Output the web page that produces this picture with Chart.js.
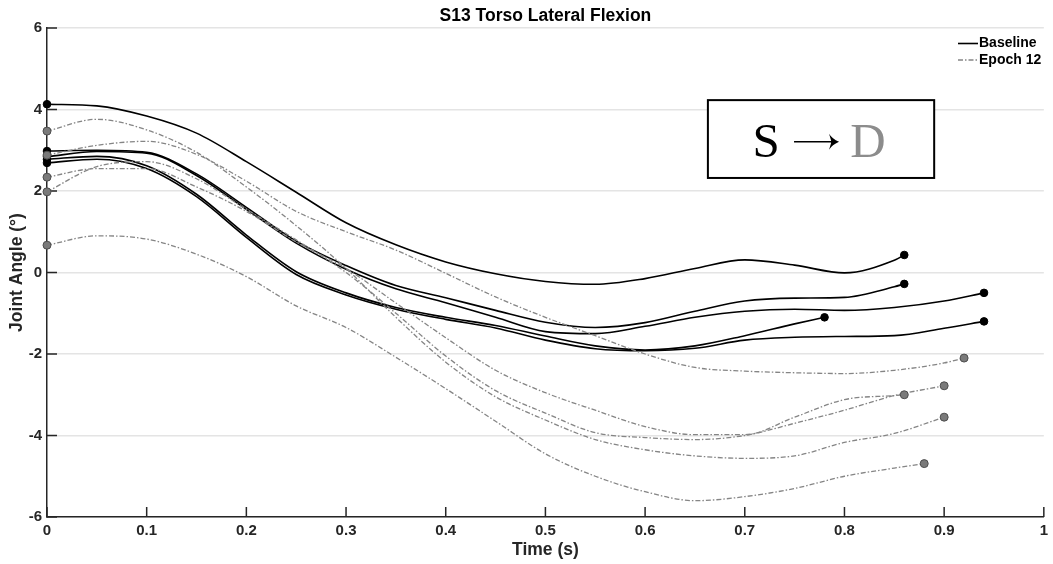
<!DOCTYPE html>
<html>
<head>
<meta charset="utf-8">
<script src="https://cdn.jsdelivr.net/npm/chart.js@4.4.1/dist/chart.umd.min.js"></script>
<style>
  html, body { margin: 0; padding: 0; background: #fff; }
  canvas { display: block; }
</style>
</head>
<body>
<canvas id="angleChart" width="1053" height="564"></canvas>
<script>
// sample times (s) shared by every trial
const time = [0, 0.05, 0.1, 0.15, 0.2, 0.25, 0.3, 0.35, 0.4, 0.45, 0.5, 0.55, 0.6, 0.65, 0.7, 0.75, 0.8, 0.85, 0.9];

// Baseline trials: angle at each `time` step, then the final sample [t, angle]
const base1 = [4.13, 4.09, 3.84, 3.42, 2.72, 1.97, 1.22, 0.68, 0.26, -0.03, -0.22, -0.29, -0.15, 0.1, 0.31, 0.18, -0.01, 0.3];
const base2 = [2.98, 3.0, 2.95, 2.42, 1.6, 0.77, 0.17, -0.32, -0.62, -0.93, -1.22, -1.35, -1.23, -0.95, -0.7, -0.63, -0.61, -0.35];
const base3 = [2.84, 2.97, 2.93, 2.38, 1.55, 0.72, 0.08, -0.4, -0.74, -1.1, -1.45, -1.5, -1.32, -1.1, -0.95, -0.9, -0.93, -0.86, -0.7];
const base4 = [2.78, 2.85, 2.62, 1.92, 0.92, 0.02, -0.5, -0.86, -1.1, -1.3, -1.56, -1.8, -1.9, -1.8, -1.55, -1.26];
const base5 = [2.69, 2.78, 2.55, 1.86, 0.86, -0.05, -0.55, -0.9, -1.15, -1.36, -1.66, -1.87, -1.92, -1.86, -1.66, -1.59, -1.57, -1.55, -1.37];
const baseEnds = [[0.86, 0.43], [0.86, -0.28], [0.94, -0.5], [0.78, -1.1], [0.94, -1.2]];

// Epoch 12 trials
const epoch1 = [2.88, 3.12, 3.22, 2.9, 2.24, 1.5, 1.0, 0.55, -0.02, -0.6, -1.1, -1.55, -2.0, -2.33, -2.42, -2.46, -2.48, -2.4, -2.22];
const epoch2 = [3.47, 3.76, 3.5, 2.95, 2.1, 1.15, 0.1, -1.1, -2.2, -3.05, -3.62, -4.1, -4.35, -4.5, -4.56, -4.5, -4.17, -3.95];
const epoch3 = [2.34, 2.55, 2.55, 2.1, 1.5, 0.75, 0.1, -0.75, -1.6, -2.4, -2.95, -3.38, -3.78, -3.98, -3.98, -3.55, -3.12, -3.02];
const epoch4 = [1.98, 2.6, 2.72, 2.3, 1.55, 0.8, 0.0, -1.0, -2.05, -2.9, -3.45, -3.93, -4.05, -4.1, -4.0, -3.7, -3.38, -3.02];
const epoch5 = [0.67, 0.9, 0.82, 0.45, -0.1, -0.82, -1.35, -2.08, -2.85, -3.65, -4.45, -5.0, -5.38, -5.6, -5.5, -5.3, -5.0, -4.8];
const epochEnds = [[0.92, -2.1], [0.9, -3.55], [0.86, -3.0], [0.9, -2.78], [0.88, -4.69]];

const baseTrials = [base1, base2, base3, base4, base5];
const epochTrials = [epoch1, epoch2, epoch3, epoch4, epoch5];

const axisColor = '#262626';
const epochColor = '#858585';
const epochDash = [5, 2, 1.5, 2];
const sans = '"Liberation Sans", Arial, sans-serif';

function toPoints(vals, end) {
    const pts = vals.map((v, i) => ({ x: time[i], y: v }));
    pts.push({ x: end[0], y: end[1] });
    return pts;
}

// only first and last sample get a marker
const endMarker = (r) => (c) => (c.dataIndex === 0 || c.dataIndex === c.dataset.data.length - 1) ? r : 0;

const datasets = [];
epochTrials.forEach((vals, i) => {
    datasets.push({
        label: 'Epoch 12',
        data: toPoints(vals, epochEnds[i]),
        borderColor: epochColor,
        borderWidth: 1.3,
        borderDash: epochDash,
        pointRadius: endMarker(4),
        pointBackgroundColor: '#7a7a7a',
        pointBorderColor: '#4d4d4d',
        pointBorderWidth: 1,
        cubicInterpolationMode: 'monotone',
        clip: false
    });
});
baseTrials.forEach((vals, i) => {
    datasets.push({
        label: 'Baseline',
        data: toPoints(vals, baseEnds[i]),
        borderColor: '#000',
        borderWidth: 1.6,
        pointRadius: endMarker(3.8),
        pointBackgroundColor: '#000',
        pointBorderColor: '#000',
        pointBorderWidth: 1,
        cubicInterpolationMode: 'monotone',
        clip: false
    });
});

// ticks inside the axes, title, axis titles, legend and the S -> D box
const decor = {
    id: 'decor',
    beforeDatasetsDraw(chart) {
        const { ctx, chartArea: a, scales: { x, y } } = chart;
        ctx.save();
        ctx.strokeStyle = axisColor;
        ctx.lineWidth = 1.5;
        ctx.beginPath();
        x.ticks.forEach(t => {
            const px = x.getPixelForValue(t.value);
            ctx.moveTo(px, a.bottom);
            ctx.lineTo(px, a.bottom - 10);
        });
        y.ticks.forEach(t => {
            const py = y.getPixelForValue(t.value);
            ctx.moveTo(a.left, py);
            ctx.lineTo(a.left + 10, py);
        });
        ctx.stroke();
        ctx.restore();
    },
    afterDraw(chart) {
        const { ctx, chartArea: a, scales: { x, y } } = chart;
        ctx.save();

        ctx.fillStyle = '#000';
        ctx.font = 'bold 17.5px ' + sans;
        ctx.textAlign = 'center';
        ctx.textBaseline = 'middle';
        ctx.fillText('S13 Torso Lateral Flexion', (a.left + a.right) / 2, 16);

        ctx.fillStyle = axisColor;
        ctx.fillText('Time (s)', (a.left + a.right) / 2, 550);
        ctx.save();
        ctx.translate(17.5, (a.top + a.bottom) / 2);
        ctx.rotate(-Math.PI / 2);
        ctx.fillText('Joint Angle (°)', 0, 0);
        ctx.restore();

        // legend
        ctx.font = 'bold 14px ' + sans;
        ctx.textAlign = 'left';
        ctx.fillStyle = '#000';
        const lx = 958, items = [['Baseline', '#000', [], 1.6, 43.5], ['Epoch 12', epochColor, epochDash, 1.3, 60]];
        items.forEach(([name, col, dash, w, ly]) => {
            ctx.strokeStyle = col;
            ctx.lineWidth = w;
            ctx.setLineDash(dash);
            ctx.beginPath();
            ctx.moveTo(lx, ly);
            ctx.lineTo(lx + 20, ly);
            ctx.stroke();
            ctx.fillText(name, lx + 21, ly);
        });
        ctx.setLineDash([]);

        // S -> D box
        const bx0 = x.getPixelForValue(0.663), bx1 = x.getPixelForValue(0.89);
        const by0 = y.getPixelForValue(4.23), by1 = y.getPixelForValue(2.32);
        ctx.fillStyle = '#fff';
        ctx.fillRect(bx0, by0, bx1 - bx0, by1 - by0);
        ctx.strokeStyle = '#000';
        ctx.lineWidth = 2;
        ctx.strokeRect(bx0, by0, bx1 - bx0, by1 - by0);
        const cx = (bx0 + bx1) / 2;
        ctx.font = '49px "Liberation Serif", "Times New Roman", serif';
        ctx.textAlign = 'center';
        ctx.textBaseline = 'alphabetic';
        ctx.fillStyle = '#000';
        ctx.fillText('S', cx - 55, 157);
        ctx.fillStyle = '#8c8c8c';
        ctx.fillText('D', cx + 47, 157);

        // arrow drawn as shaft + head
        const ay = 141.7, ax0 = cx - 27, ax1 = cx + 18;
        ctx.strokeStyle = '#000';
        ctx.fillStyle = '#000';
        ctx.lineWidth = 1.6;
        ctx.beginPath();
        ctx.moveTo(ax0, ay);
        ctx.lineTo(ax1 - 3, ay);
        ctx.stroke();
        ctx.beginPath();
        ctx.moveTo(ax1, ay);
        ctx.quadraticCurveTo(ax1 - 7, ay - 3, ax1 - 10, ay - 8);
        ctx.lineTo(ax1 - 8, ay - 1.5);
        ctx.lineTo(ax1 - 8, ay + 1.5);
        ctx.lineTo(ax1 - 10, ay + 8);
        ctx.quadraticCurveTo(ax1 - 7, ay + 3, ax1, ay);
        ctx.fill();

        ctx.restore();
    }
};

new Chart(document.getElementById('angleChart'), {
    type: 'line',
    data: { datasets: datasets },
    options: {
        responsive: false,
        animation: false,
        layout: { padding: { top: 28, right: 4, left: 0, bottom: 0 } },
        plugins: {
            legend: { display: false },
            title: { display: false },
            tooltip: { enabled: false }
        },
        scales: {
            x: {
                type: 'linear',
                min: 0,
                max: 1,
                afterFit: (s) => { s.height = 47; },
                grid: { display: false, drawTicks: false },
                border: { display: true, color: axisColor, width: 1.5 },
                ticks: {
                    stepSize: 0.1,
                    padding: 5,
                    color: axisColor,
                    font: { family: sans, size: 15, weight: 'bold' },
                    callback: (v) => String(+v.toFixed(1))
                }
            },
            y: {
                min: -6,
                max: 6,
                afterFit: (s) => { s.width = 47; },
                grid: { color: '#e4e4e4', lineWidth: 1.5, drawTicks: false },
                border: { display: true, color: axisColor, width: 1.5 },
                ticks: {
                    stepSize: 2,
                    padding: 5,
                    color: axisColor,
                    font: { family: sans, size: 15, weight: 'bold' }
                }
            }
        }
    },
    plugins: [decor]
});
</script>
</body>
</html>
